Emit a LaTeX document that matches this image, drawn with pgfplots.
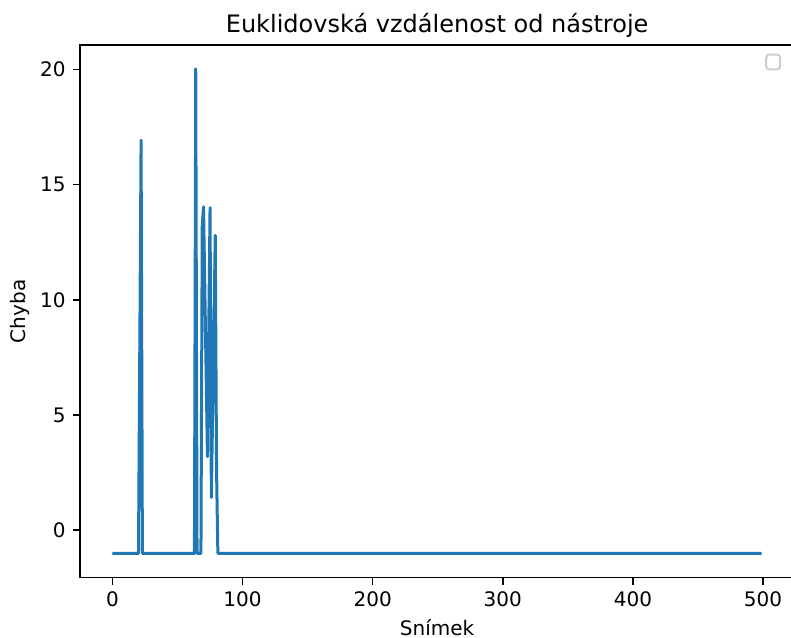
\documentclass[border=0pt]{standalone}
\usepackage{fontspec}
\setmainfont{DejaVu Sans}
\usepackage{pgfplots}
\pgfplotsset{compat=1.18}
\definecolor{mplblue}{HTML}{1F77B4}
\begin{document}
\begin{tikzpicture}
\useasboundingbox (-40pt,-30.15pt) rectangle (355.5pt,288.75pt);
\begin{axis}[
  at={(0,0)}, anchor=south west,
  scale only axis,
  width=357.1pt, height=266.1pt,
  xmin=-24.95, xmax=523.95,
  ymin=-2.05, ymax=21.05,
  xtick={0,100,200,300,400,500},
  ytick={0,5,10,15,20},
  xtick pos=bottom, ytick pos=left,
  tick align=outside,
  major tick length=3.5pt,
  tick style={line width=0.8pt, black},
  axis line style={line width=0.8pt, black},
  /pgf/number format/assume math mode=true,
  ticklabel style={font=\fontsize{10}{12}\selectfont, inner sep=0pt},
  xticklabel shift=3.5pt,
  yticklabel shift=3.5pt,
  title={Euklidovská vzdálenost od nástroje},
  title style={font=\fontsize{12}{14}\selectfont, at={(rel axis cs:0.5,1)}, anchor=base, inner sep=0pt, yshift=0.5pt},
  xlabel={Snímek},
  xlabel style={font=\fontsize{10}{12}\selectfont, at={(rel axis cs:0.5,0)}, anchor=north, inner sep=0pt, yshift=-20.7pt},
  ylabel={Chyba},
  ylabel style={font=\fontsize{10}{12}\selectfont, at={(rel axis cs:0,0.5)}, anchor=south, inner sep=0pt, yshift=25pt},
  clip=true,
]
\addplot[mplblue, line width=1.5pt, line join=round, mark=none] coordinates {
  (0,-1) (20,-1) (22,16.93) (23,-1)
  (63,-1) (64,20.03) (65,-1) (68,-1)
  (69,13.2) (70,14.04) (71,10.4) (72,6.8) (73,3.2) (74,8.6) (75,14.0)
  (76,1.42) (77,5.2) (78,9.0) (79,12.8) (80,2.6) (81,-1)
  (499,-1)
};
\end{axis}
\draw[draw=black!20, line width=1pt, rounded corners=1.5pt, fill=white, fill opacity=0.8]
  (343.1pt,254.1pt) rectangle (350.1pt,261.4pt);
\end{tikzpicture}
\end{document}
